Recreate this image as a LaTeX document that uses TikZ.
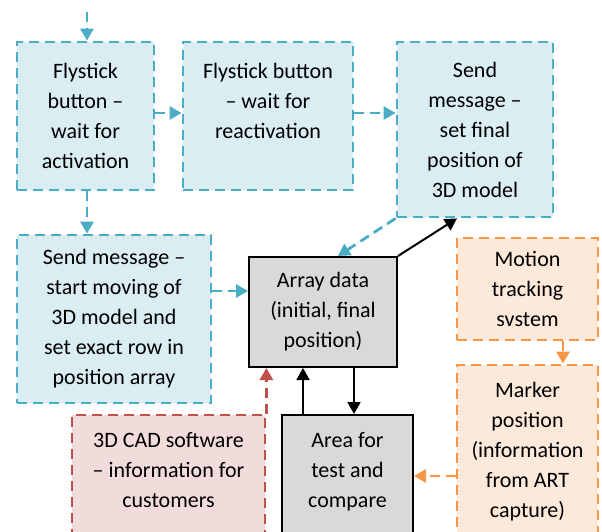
\documentclass[tikz,border=0pt]{standalone}
\usepackage{fontspec}
\setmainfont{Carlito}
\usetikzlibrary{arrows.meta, positioning}

\definecolor{blueline}{RGB}{75,172,198}
\definecolor{bluefill}{RGB}{218,237,243}
\definecolor{orangeline}{RGB}{247,150,70}
\definecolor{orangefill}{RGB}{253,233,217}
\definecolor{redline}{RGB}{192,80,77}
\definecolor{redfill}{RGB}{242,220,219}
\definecolor{grayfill}{RGB}{217,217,217}

\begin{document}
\begin{tikzpicture}[x=1pt, y=-1pt,
    box/.style={align=center, inner sep=0pt, font=\fontsize{22}{30}\selectfont},
    dashline/.style={line width=2.8pt, dash pattern=on 10pt off 6pt},
    bluebox/.style={box, dashline, draw=blueline, fill=bluefill},
    orangebox/.style={box, dashline, draw=orangeline, fill=orangefill},
    redbox/.style={box, dashline, draw=redline, fill=redfill},
    graybox/.style={box, draw=black, fill=grayfill, line width=2pt},
    tip/.style={-{Triangle[length=12pt,width=13pt]}},
    bluearrow/.style={tip, dashline, draw=blueline, fill=blueline},
    orangearrow/.style={tip, dashline, draw=orangeline, fill=orangeline},
    redarrow/.style={tip, dashline, draw=redline, fill=redline},
    blackarrow/.style={tip, line width=2pt, draw=black, fill=black}]

            \useasboundingbox (0,0) rectangle (602,532);
            \clip (0,0) rectangle (602,532);

            % Boxes of the flystick part
            \node[bluebox, minimum width=137pt, minimum height=148pt] (act) at (85.5,116)
                {Flystick\\button –\\wait for\\activation};
            \node[bluebox, minimum width=170pt, minimum height=148pt] (react) at (268,116)
                {Flystick button\\– wait for\\reactivation\\\mbox{}};
            \node[bluebox, minimum width=156pt, minimum height=175pt] (final) at (475,129.5)
                {Send\\message –\\set final\\position of\\3D model};
            \node[bluebox, minimum width=194pt, minimum height=168pt] (start) at (114,319)
                {Send message –\\start moving of\\3D model and\\set exact row in\\position array};

            % Data and comparison
            \node[graybox, minimum width=148pt, minimum height=110pt] (array) at (323,312)
                {Array data\\(initial, final\\position)};
            \node[graybox, minimum width=131pt, minimum height=140pt] (cmp) at (347.5,485)
                {Area for\\test and\\compare\\\mbox{}};
            \node[redbox, minimum width=193pt, minimum height=140pt] (cad) at (168.5,485)
                {3D CAD software\\– information for\\customers\\\mbox{}};

            % Tracking side
            \node[orangebox, minimum width=141pt, minimum height=102pt] (motion) at (527.5,289)
                {Motion\\tracking\\svstem};
            \node[orangebox, minimum width=141pt, minimum height=174pt] (marker) at (527.5,452)
                {Marker\\position\\(information\\from ART\\capture)};

            % Helper points
            \coordinate (top) at (87,12);
            \coordinate (ab) at ([yshift=3pt]act.east);
            \coordinate (ain) at ([yshift=21pt]array.west);
            \coordinate (up) at ([xshift=-44.5pt]cmp.north);
            \coordinate (down) at ([xshift=31pt]array.south);
            \coordinate (gi) at ([yshift=-24pt]marker.west);

            % Draw connectors
            \draw[bluearrow] (top) -- (top |- act.north);
            \draw[bluearrow] (ab) -- (ab -| react.west);
            \draw[bluearrow] (ab -| react.east) -- (ab -| final.west);
            \draw[bluearrow] (top |- act.south) -- (top |- start.north);
            \draw[bluearrow] (ain -| start.east) -- (ain);
            \draw[bluearrow] (final.south west) -- ([xshift=15pt]array.north);
            \draw[blackarrow] (array.north east) -- ([xshift=-18pt]final.south);
            \draw[redarrow] (cad.north east) -- (cad.north east |- array.south);
            \draw[blackarrow] (up) -- (up |- array.south);
            \draw[blackarrow] (down) -- (down |- cmp.north);
            \draw[orangearrow] ([xshift=35.5pt]motion.south) -- ([xshift=35.5pt]marker.north);
            \draw[orangearrow] (gi) -- (gi -| cmp.east);
\end{tikzpicture}
\end{document}
